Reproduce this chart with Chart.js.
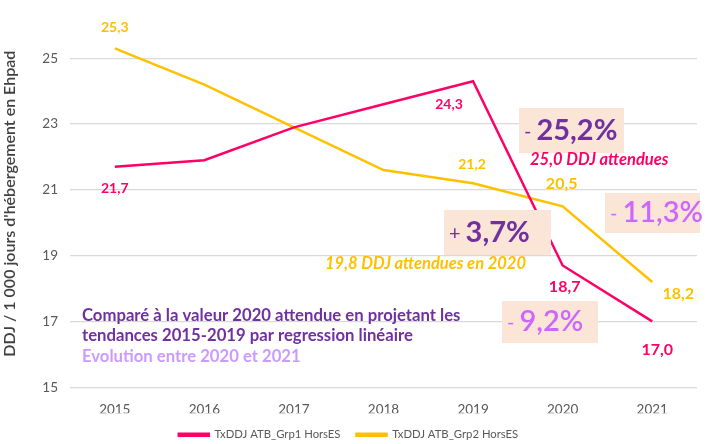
<!DOCTYPE html>
<html>
<head>
<meta charset="utf-8">
<script src="https://cdn.jsdelivr.net/npm/chart.js@4.4.1/dist/chart.umd.min.js"></script>
<style>
  body { margin: 0; background: #fff; }
  #wrap { width: 706px; height: 444px; }
</style>
</head>
<body>
<div id="wrap"><canvas id="c"></canvas></div>
<script>
const years = ["2015", "2016", "2017", "2018", "2019", "2020", "2021"];
const grp1 = [21.7, 21.9, 22.9, 23.6, 24.3, 18.7, 17.0];
const grp2 = [25.3, 24.2, 22.9, 21.6, 21.2, 20.5, 18.2];
const yTicks = [15, 17, 19, 21, 23, 25];
// which points get a value label
const grp1Shown = [true, false, false, false, true, true, true];
const grp2Shown = [true, false, false, false, true, true, true];

const FONT = "Lato, 'Liberation Sans', sans-serif";
const PINK = "#FF0066";
const YELLOW = "#FFC000";
const DARK_PURPLE = "#7030A0";
const LIGHT_PURPLE = "#CC66FF";
const BOX = "#FBE5D6";

const fmt = v => v.toFixed(1).replace(".", ",");

// value labels, offsets in px from each point
const labelStyle = [
  { // grp1
    shown: grp1Shown, color: PINK,
    offsets: [[0, 22, 14], null, null, null, [-24, 23, 14], [2, 21, 16], [5, 28, 16]]
  },
  { // grp2
    shown: grp2Shown, color: YELLOW,
    offsets: [[0, -21, 14], null, null, null, [-1, -19, 14], [-1, -22, 16], [26, 12, 16]]
  }
];

const valueLabels = {
  id: "valueLabels",
  afterDatasetsDraw(chart) {
    const ctx = chart.ctx;
    ctx.save();
    ctx.textAlign = "center";
    ctx.textBaseline = "middle";
    labelStyle.forEach((st, di) => {
      const meta = chart.getDatasetMeta(di);
      const data = chart.data.datasets[di].data;
      meta.data.forEach((pt, i) => {
        if (!st.shown[i]) return;
        const [dx, dy, size] = st.offsets[i];
        ctx.font = "bold " + size + "px " + FONT;
        ctx.fillStyle = st.color;
        ctx.fillText(fmt(data[i]), pt.x + dx, pt.y + dy);
      });
    });
    ctx.restore();
  }
};

// callout boxes and notes
const callouts = {
  id: "callouts",
  afterDraw(chart) {
    const ctx = chart.ctx;
    ctx.save();
    ctx.textBaseline = "middle";
    ctx.textAlign = "left";

    function pct(x, y, w, h, sign, num, color, weight) {
      ctx.fillStyle = BOX;
      ctx.fillRect(x, y, w, h);
      ctx.fillStyle = color;
      ctx.font = "20px " + FONT;
      ctx.fillText(sign, x + 5, y + h / 2 + 1);
      const sw = ctx.measureText(sign).width;
      ctx.font = weight + " 29px " + FONT;
      ctx.fillText(num, x + 10 + sw, y + h / 2);
    }
    pct(519, 108, 105, 45, "-", "25,2%", DARK_PURPLE, "bold");
    pct(605, 193, 95, 40, "-", "11,3%", LIGHT_PURPLE, "600");
    pct(444, 210, 107, 45, "+", "3,7%", DARK_PURPLE, "bold");
    pct(502, 301, 96, 42, "-", "9,2%", LIGHT_PURPLE, "600");

    ctx.font = "italic bold 16.5px " + FONT;
    ctx.fillStyle = PINK;
    ctx.fillText("25,0 DDJ attendues", 530, 160);
    ctx.fillStyle = YELLOW;
    ctx.fillText("19,8 DDJ attendues en 2020", 325, 264);

    ctx.font = "bold 16.7px " + FONT;
    ctx.fillStyle = DARK_PURPLE;
    ctx.fillText("Comparé à la valeur 2020 attendue en projetant les", 82, 316);
    ctx.fillText("tendances 2015-2019 par regression linéaire", 82, 336);
    ctx.fillStyle = "#CC99FF";
    ctx.fillText("Evolution entre 2020 et 2021", 82, 357);
    ctx.restore();
  }
};

new Chart(document.getElementById("c"), {
  type: "line",
  data: {
    labels: years,
    datasets: [
      {
        label: "TxDDJ ATB_Grp1 HorsES",
        data: grp1,
        borderColor: PINK,
        backgroundColor: PINK,
        borderWidth: 2.5,
        pointRadius: 0,
        tension: 0
      },
      {
        label: "TxDDJ ATB_Grp2 HorsES",
        data: grp2,
        borderColor: YELLOW,
        backgroundColor: YELLOW,
        borderWidth: 2.5,
        pointRadius: 0,
        tension: 0
      }
    ]
  },
  options: {
    responsive: true,
    maintainAspectRatio: false,
    animation: false,
    layout: { padding: { top: 0, right: 9, bottom: -6.5, left: 0 } },
    plugins: {
      legend: {
        display: true,
        position: "bottom",
        labels: {
          boxWidth: 30,
          boxHeight: 2,
          padding: 16,
          color: "#595959",
          font: { family: FONT, size: 11.3 }
        }
      },
      tooltip: { enabled: false }
    },
    scales: {
      x: {
        offset: true,
        grid: { display: false },
        border: { display: false },
        ticks: { color: "#595959", font: { family: FONT, size: 13.5 }, padding: 6 },
        afterFit: s => { s.height = 26; }
      },
      y: {
        min: 15,
        max: 26.16,
        afterBuildTicks: s => { s.ticks = yTicks.map(v => ({ value: v })); },
        grid: { color: "#D9D9D9", lineWidth: 1.3, drawTicks: false },
        border: { display: false },
        ticks: { color: "#595959", font: { family: FONT, size: 13.5 }, padding: 12 },
        title: {
          display: true,
          text: "DDJ / 1 000 jours d'hébergement en Ehpad",
          color: "#404040",
          font: { family: FONT, size: 16, weight: "600" },
          padding: { top: 0, bottom: 5 }
        },
        afterFit: s => { s.width = 70; }
      }
    }
  },
  plugins: [valueLabels, callouts]
});
</script>
</body>
</html>
